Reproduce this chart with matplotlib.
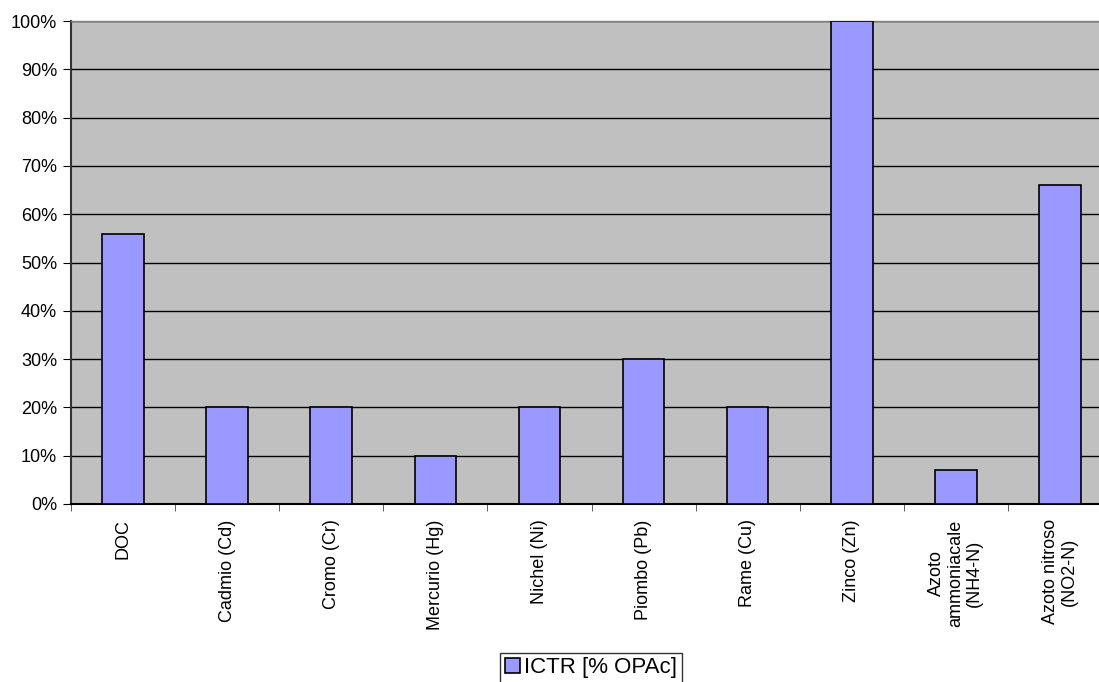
import matplotlib
matplotlib.use("Agg")
import matplotlib.pyplot as plt
from matplotlib.ticker import PercentFormatter, FixedLocator
import numpy as np

plt.rcParams['font.family'] = ['Liberation Sans', 'DejaVu Sans']

# data
categories = ['DOC', 'Cadmio (Cd)', 'Cromo (Cr)', 'Mercurio (Hg)', 'Nichel (Ni)',
              'Piombo (Pb)', 'Rame (Cu)', 'Zinco (Zn)',
              'Azoto\nammoniacale\n(NH4-N)', 'Azoto nitroso\n(NO2-N)']
ictr = [56, 20, 20, 10, 20, 30, 20, 100, 7, 66]
series_label = 'ICTR [% OPAc]'

W, H = 1099, 682
fig = plt.figure(figsize=(W / 100, H / 100), dpi=100)
# plot area runs past the right edge, as in the reference
ax = fig.add_axes([71 / W, (H - 504) / H, 1041 / W, 483 / H])
ax.set_facecolor('#c0c0c0')

x = np.arange(len(categories))
ax.bar(x, ictr, width=0.4, color='#9999ff', edgecolor='black', linewidth=1.2,
       zorder=3, label=series_label)

ax.set_xlim(-0.5, len(categories) - 0.5)
ax.set_ylim(0, 100)
ax.yaxis.set_major_locator(FixedLocator(np.arange(0, 101, 10)))
ax.yaxis.set_major_formatter(PercentFormatter(decimals=0))
ax.grid(axis='y', color='black', linewidth=1.0, zorder=1)

ax.set_xticks(x)
ax.set_xticklabels(categories, rotation=90, ha='center', va='top',
                   multialignment='center', fontsize=13, linespacing=1.15)
ax.tick_params(axis='x', which='major', length=0, pad=11)
ax.set_xticks(np.arange(-0.5, len(categories), 1), minor=True)
ax.tick_params(axis='x', which='minor', length=5, direction='out', color='#444444')
ax.tick_params(axis='y', length=6, direction='out', labelsize=13, pad=4)

for side in ['top', 'right']:
    ax.spines[side].set_color('#808080')
    ax.spines[side].set_linewidth(1.0)
ax.spines['left'].set_color('#333333')
ax.spines['left'].set_linewidth(1.5)
ax.spines['bottom'].set_color('black')
ax.spines['bottom'].set_linewidth(1.5)

leg = fig.legend(loc='upper center', bbox_to_anchor=(591 / W, 1 - 653 / H),
                 frameon=True, fancybox=False, fontsize=16,
                 handlelength=0.7, handleheight=0.7, handletextpad=0.2,
                 borderpad=0.2, borderaxespad=0)
leg.get_frame().set_edgecolor('black')
leg.get_frame().set_linewidth(1.0)

fig.savefig('out.png', dpi=100)
